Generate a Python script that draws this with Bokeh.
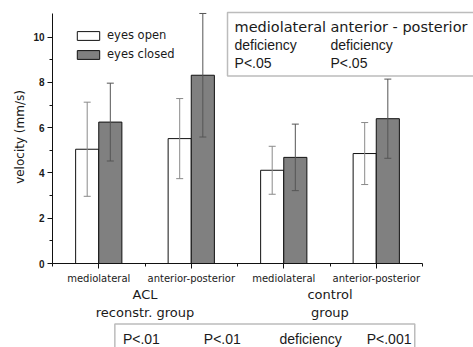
from bokeh.plotting import figure
from bokeh.layouts import column
from bokeh.models import (ColumnDataSource, Range1d, FixedTicker, Whisker, TeeHead,
                          Legend, LegendItem, Label, BoxAnnotation, LinearAxis)
from bokeh.embed import file_html
from bokeh.resources import INLINE

# ---- data ----
categories = ["mediolateral", "anterior-posterior", "mediolateral", "anterior-posterior"]
groups = ["ACL\nreconstr. group", "control\ngroup"]
series = ["eyes open", "eyes closed"]
eyes_open = [5.05, 5.52, 4.12, 4.86]
eyes_open_sd = [2.08, 1.77, 1.06, 1.37]
eyes_closed = [6.25, 8.32, 4.69, 6.40]
eyes_closed_sd = [1.72, 2.73, 1.47, 1.75]
y_ticks = [0, 2, 4, 6, 8, 10]
y_minor = [1, 3, 5, 7, 9]
top_box_cols = [["mediolateral", "deficiency", "P<.05"],
                ["anterior - posterior", "deficiency", "P<.05"]]
bottom_box = ["P<.01", "P<.01", "deficiency", "P<.001"]

# ---- layout ----
pos = [i + 1 for i in range(len(categories))]
group_pos = [1.5, 3.5]
bw = 0.25
TXT = "#1a1a1a"
W = 473
X_END = 0.5 + (473 - 52) / 92.5   # frame runs to the right edge
Y_END = 11.05 + 3 / 22.8

p = figure(width=W, height=322, output_backend="svg", toolbar_location=None,
           x_range=Range1d(0.5, X_END), y_range=Range1d(0, Y_END),
           min_border_left=52, min_border_right=0, min_border_top=10,
           min_border_bottom=57)
p.outline_line_color = None
p.grid.visible = False

src_o = ColumnDataSource(dict(
    x=[v - bw / 2 for v in pos], top=eyes_open,
    upper=[m + s for m, s in zip(eyes_open, eyes_open_sd)],
    lower=[m - s for m, s in zip(eyes_open, eyes_open_sd)]))
src_c = ColumnDataSource(dict(
    x=[v + bw / 2 for v in pos], top=eyes_closed,
    upper=[m + s for m, s in zip(eyes_closed, eyes_closed_sd)],
    lower=[m - s for m, s in zip(eyes_closed, eyes_closed_sd)]))

r_o = p.vbar(x="x", top="top", width=bw, source=src_o,
             fill_color="white", line_color="#111111", line_width=1)
r_c = p.vbar(x="x", top="top", width=bw, source=src_c,
             fill_color="#808080", line_color="#111111", line_width=1)

for src, col in ((src_o, "#8a8a8a"), (src_c, "#555555")):
    w = Whisker(base="x", upper="upper", lower="lower", source=src,
                line_color=col, line_width=1, level="overlay",
                upper_head=TeeHead(size=7, line_color=col, line_width=1),
                lower_head=TeeHead(size=7, line_color=col, line_width=1))
    p.add_layout(w)

# axes
p.yaxis.ticker = FixedTicker(ticks=y_ticks, minor_ticks=y_minor)
p.yaxis.bounds = (0, 11.05)
p.yaxis.axis_label = "velocity (mm/s)"
p.yaxis.axis_label_text_font = "DejaVu Sans"
p.yaxis.axis_label_text_font_size = "12px"
p.yaxis.axis_label_text_font_style = "normal"
p.yaxis.axis_label_text_color = TXT
p.yaxis.axis_label_standoff = 3
p.yaxis.major_label_text_font = "Liberation Sans"
p.yaxis.major_label_text_font_style = "bold"
p.yaxis.major_label_text_font_size = "10px"
p.yaxis.major_label_text_color = TXT
p.yaxis.major_label_standoff = 3

p.xaxis.ticker = FixedTicker(ticks=pos, minor_ticks=[v - 0.5 for v in pos] + [pos[-1] + 0.5])
p.xaxis.bounds = (0.5, 4.5)
p.xaxis.major_label_overrides = {v: c for v, c in zip(pos, categories)}
p.xaxis.major_label_text_font = "DejaVu Sans"
p.xaxis.major_label_text_font_size = "10px"
p.xaxis.major_label_text_color = TXT
p.xaxis.major_label_standoff = 4

for ax in (p.xaxis[0], p.yaxis[0]):
    ax.axis_line_color = "#111111"
    ax.major_tick_line_color = "#111111"
    ax.minor_tick_line_color = "#111111"
    ax.major_tick_out = 5
    ax.major_tick_in = 0
    ax.minor_tick_out = 3
    ax.minor_tick_in = 0

# group labels as a second axis below
gax = LinearAxis(ticker=FixedTicker(ticks=group_pos, minor_ticks=[]),
                 major_label_overrides={g: t for g, t in zip(group_pos, groups)},
                 axis_line_color=None, major_tick_line_color=None,
                 minor_tick_line_color=None, major_tick_out=0, major_tick_in=0,
                 major_label_standoff=0, major_label_text_font="DejaVu Sans",
                 major_label_text_font_size="13px", major_label_text_color=TXT)
p.add_layout(gax, "below")

# legend
legend = Legend(items=[LegendItem(label=series[0], renderers=[r_o]),
                       LegendItem(label=series[1], renderers=[r_c])],
                location=(22, 202), glyph_width=28, glyph_height=11,
                label_height=11, spacing=5, padding=0, margin=0,
                border_line_color=None, background_fill_alpha=0,
                label_text_font="DejaVu Sans", label_text_font_size="11.5px",
                label_text_color=TXT, label_standoff=5)
p.add_layout(legend)

# top-right box
p.add_layout(BoxAnnotation(left=2.392, right=X_END + 1, top=11.096, bottom=8.29,
                           fill_color="white", fill_alpha=1, line_color="#222222",
                           line_width=1.5, level="overlay"))
row_y = [10.45, 9.65, 8.85]
for cx, col in zip([2.468, 3.505], top_box_cols):
    for i, (ry, t) in enumerate(zip(row_y, col)):
        p.add_layout(Label(x=cx, y=ry, text=t, text_baseline="middle",
                           text_font="DejaVu Sans" if i == 0 else "Liberation Sans",
                           text_font_size="14.5px" if i == 0 else "14px",
                           text_color=TXT, level="overlay"))

# bottom box (separate strip under the chart)
q = figure(width=W, height=25, output_backend="svg", toolbar_location=None,
           x_range=Range1d(0.5 - 52 / 92.5, X_END), y_range=Range1d(-25, 0),
           x_axis_type=None, y_axis_type=None,
           min_border_left=0, min_border_right=0, min_border_top=0, min_border_bottom=0)
q.outline_line_color = None
q.grid.visible = False
q.add_layout(BoxAnnotation(left=0.695, right=4.338, top=-1.5, bottom=-60,
                           fill_color="white", fill_alpha=1, line_color="#222222",
                           line_width=1.5))
for bx, t in zip([0.793, 1.776, 2.695, 3.754], bottom_box):
    q.add_layout(Label(x=bx, y=-16, text=t, text_baseline="middle",
                       text_font="Liberation Sans", text_font_size="14px",
                       text_color=TXT))

open("out.html", "w").write(file_html(column(p, q, spacing=0), INLINE))
